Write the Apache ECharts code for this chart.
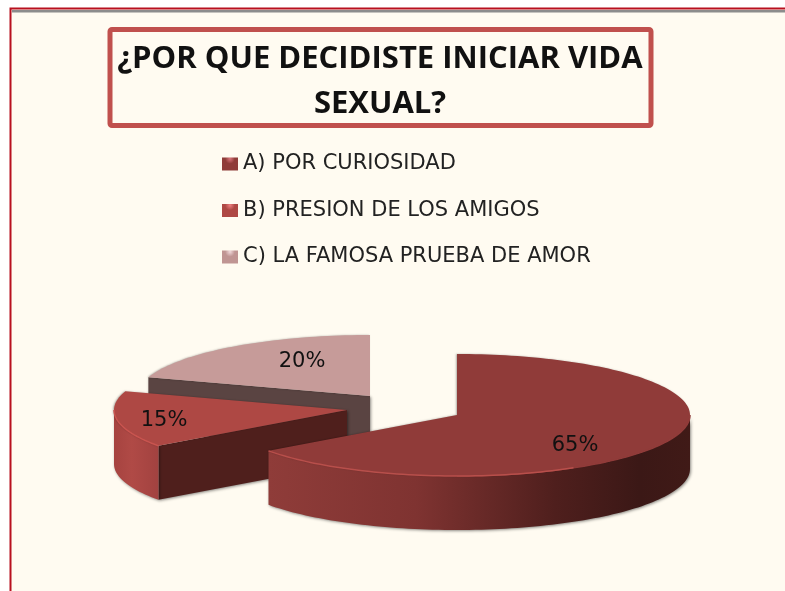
<!DOCTYPE html>
<html>
<head>
<meta charset="utf-8">
<style>
  html, body { margin: 0; padding: 0; background: #fff; }
  #chart { width: 785px; height: 591px; }
</style>
<script src="https://cdn.jsdelivr.net/npm/echarts@6/dist/echarts.min.js"></script>
</head>
<body>
<div id="chart"></div>
<script>
var titleText = '¿POR QUE DECIDISTE INICIAR VIDA\nSEXUAL?';
var categories = ['A) POR CURIOSIDAD', 'B) PRESION DE LOS AMIGOS', 'C) LA FAMOSA PRUEBA DE AMOR'];
var values = [65, 15, 20];

// how each slice sits on the page (exploded pie)
var centers = [[457, 415], [347, 410], [370, 396]];
var labelPos = [[575, 446], [164, 421], [302, 362]];
var rx = 233, ry = 61, depth = 54;

var G = echarts.graphic.LinearGradient;
var skins = [
  {
    top: '#903b39', cut: '#4f1f1c', rim: '#b84f4b',
    wall: new G(0, 0, 1, 0, [
      {offset: 0, color: '#8f3c39'},
      {offset: 0.35, color: '#7f3331'},
      {offset: 0.68, color: '#4f1f1d'},
      {offset: 0.88, color: '#3b1816'},
      {offset: 1, color: '#401a17'}
    ]),
    icon: '#8f3c39', iconLight: '#d9747a'
  },
  {
    top: '#ae4844', cut: '#4f1f1c', rim: '#c9544f',
    wall: new G(0, 0, 1, 0, [
      {offset: 0, color: '#a64340'},
      {offset: 0.4, color: '#b04a46'},
      {offset: 1, color: '#a24240'}
    ]),
    icon: '#ae4844', iconLight: '#ee7f80'
  },
  {
    top: '#c69b99', cut: '#5a4442', rim: '#d3adab',
    wall: '#c69b99',
    icon: '#c09593', iconLight: '#f0d8da'
  }
];

var total = values.reduce(function (a, b) { return a + b; }, 0);
var starts = [];
values.reduce(function (sum, v, i) { starts[i] = sum / total * 360; return sum + v; }, 0);

// angle is clockwise from 12 o'clock
function rimPoint(c, deg, drop) {
  var r = deg * Math.PI / 180;
  return [c[0] + rx * Math.sin(r), c[1] - ry * Math.cos(r) + (drop || 0)];
}

function arc(c, from, to, drop) {
  var pts = [];
  for (var d = from; d < to; d += 1.5) pts.push(rimPoint(c, d, drop));
  pts.push(rimPoint(c, to, drop));
  return pts;
}

function cutWall(c, deg, fill) {
  var e = rimPoint(c, deg);
  return {
    type: 'polygon',
    shape: {points: [c, e, [e[0], e[1] + depth], [c[0], c[1] + depth]]},
    style: {fill: fill, shadowBlur: 3, shadowColor: 'rgba(0,0,0,0.45)', shadowOffsetX: 1, shadowOffsetY: 1}
  };
}

function renderSlice(params, api) {
  var i = api.value(1);
  var c = centers[i];
  var skin = skins[i];
  var a0 = starts[i];
  var a1 = a0 + api.value(0) / total * 360;
  var kids = [];

  if (Math.sin(a0 * Math.PI / 180) < -0.001) kids.push(cutWall(c, a0, skin.cut));
  if (Math.sin(a1 * Math.PI / 180) > 0.001) kids.push(cutWall(c, a1, skin.cut));

  // only the front half of the rim shows a wall
  var f0 = Math.max(a0, 90), f1 = Math.min(a1, 270);
  if (f1 > f0) {
    kids.push({
      type: 'polygon',
      shape: {points: arc(c, f0, f1, 0).concat(arc(c, f0, f1, depth).reverse())},
      style: {fill: skin.wall, shadowBlur: 3, shadowColor: 'rgba(0,0,0,0.45)', shadowOffsetX: 1, shadowOffsetY: 1}
    });
  }

  kids.push({
    type: 'polygon',
    shape: {points: [c].concat(arc(c, a0, a1, 0))},
    style: {fill: skin.top, shadowBlur: 2, shadowColor: 'rgba(0,0,0,0.3)', shadowOffsetX: -1}
  });

  if (f1 > f0) {
    kids.push({
      type: 'polyline',
      shape: {points: arc(c, f0, Math.min(f1, 180), 0)},
      style: {fill: null, stroke: skin.top, lineWidth: 1.5}
    });
    kids.push({
      type: 'polyline',
      shape: {points: arc(c, Math.max(f0, 150), f1, 0)},
      style: {fill: null, stroke: skin.rim, lineWidth: 1.5}
    });
  }

  kids.push({
    type: 'text',
    style: {
      x: labelPos[i][0], y: labelPos[i][1],
      text: api.value(0) + '%',
      fill: '#111', font: '21px "DejaVu Sans"',
      align: 'center', verticalAlign: 'middle'
    }
  });

  return {type: 'group', children: kids};
}

var series = [2, 1, 0].map(function (i) {
  return {
    name: categories[i],
    type: 'custom',
    coordinateSystem: 'none',
    renderItem: renderSlice,
    silent: true,
    animation: false,
    data: [[values[i], i]]
  };
});

var option = {
  animation: false,
  backgroundColor: '#fff',
  title: {
    text: titleText,
    left: 375,
    top: 32,
    textAlign: 'center',
    textStyle: {
      fontFamily: 'Open Sans', fontWeight: 'bold', fontSize: 31,
      lineHeight: 45, color: '#111'
    }
  },
  legend: {
    orient: 'vertical',
    left: 217,
    top: 147,
    itemWidth: 16,
    itemHeight: 13,
    itemGap: 22.5,
    selectedMode: false,
    textStyle: {fontFamily: 'DejaVu Sans', fontSize: 21, color: '#222', lineHeight: 24},
    data: categories.map(function (name, i) {
      return {
        name: name,
        icon: 'rect',
        itemStyle: {
          color: new echarts.graphic.RadialGradient(0.5, 0.1, 0.75, [
            {offset: 0, color: skins[i].iconLight},
            {offset: 0.5, color: skins[i].icon},
            {offset: 1, color: skins[i].icon}
          ])
        }
      };
    })
  },
  graphic: [
    {
      type: 'rect', z: -10,
      shape: {x: 10.5, y: 8.5, width: 800, height: 620},
      style: {fill: '#fffbf1', stroke: '#b8101f', lineWidth: 2}
    },
    {
      type: 'rect', z: -9,
      shape: {x: 12, y: 10, width: 790, height: 2.5},
      style: {fill: '#8c8c8c'}
    },
    {
      type: 'rect', z: -8,
      shape: {x: 110, y: 29.5, width: 541, height: 96, r: 2},
      style: {fill: '#fffbf1', stroke: '#c0504d', lineWidth: 5}
    }
  ],
  series: series
};

var chart = echarts.init(document.getElementById('chart'));
chart.setOption(option);
</script>
</body>
</html>
